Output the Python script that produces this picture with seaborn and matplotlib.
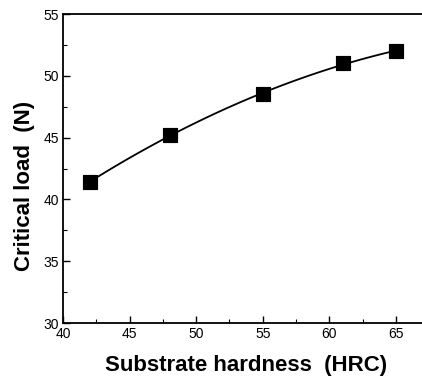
import matplotlib
matplotlib.use("Agg")
import matplotlib.pyplot as plt
import seaborn as sns
import pandas as pd
from matplotlib.ticker import MultipleLocator

hardness = [42, 48, 55, 61, 65]
critical_load = [41.4, 45.2, 48.5, 51.0, 52.0]
x_ticks = [40, 45, 50, 55, 60, 65]
y_ticks = [30, 35, 40, 45, 50, 55]

sns.set_theme(style="ticks")
plt.rcParams['font.family'] = ['Liberation Sans', 'DejaVu Sans']
plt.rcParams['text.color'] = 'black'
plt.rcParams['axes.labelcolor'] = 'black'

df = pd.DataFrame({"hardness": hardness, "load": critical_load})

fig = plt.figure(figsize=(4.22, 3.81), dpi=100)
ax = fig.add_axes([63/422, 1 - 323/381, (422 - 63)/422 * 1.02, (323 - 14)/381])

sns.regplot(data=df, x="hardness", y="load", order=2, ci=None, scatter=False,
            color="black", line_kws={"linewidth": 1.3}, ax=ax, truncate=True)
sns.scatterplot(data=df, x="hardness", y="load", marker="s", s=110, color="black",
                edgecolor="black", ax=ax, zorder=5)

ax.set_xlim(40, 67.5)
ax.set_ylim(30, 55)
ax.set_xticks(x_ticks)
ax.set_yticks(y_ticks)
ax.xaxis.set_minor_locator(MultipleLocator(2.5))
ax.yaxis.set_minor_locator(MultipleLocator(2.5))
ax.tick_params(which="both", direction="in", top=False, right=False, labelsize=10,
               colors="black", pad=3)
ax.tick_params(which="major", length=5, width=1.0)
ax.tick_params(which="minor", length=3, width=0.8)
for s in ax.spines.values():
    s.set_visible(True)
    s.set_linewidth(1.3)
    s.set_color("black")

ax.set_xlabel("Substrate hardness  (HRC)", fontsize=16, fontweight="bold", labelpad=10)
ax.set_ylabel("Critical load  (N)", fontsize=16, fontweight="bold", labelpad=6, y=0.443)

fig.savefig("out.png", dpi=100)
